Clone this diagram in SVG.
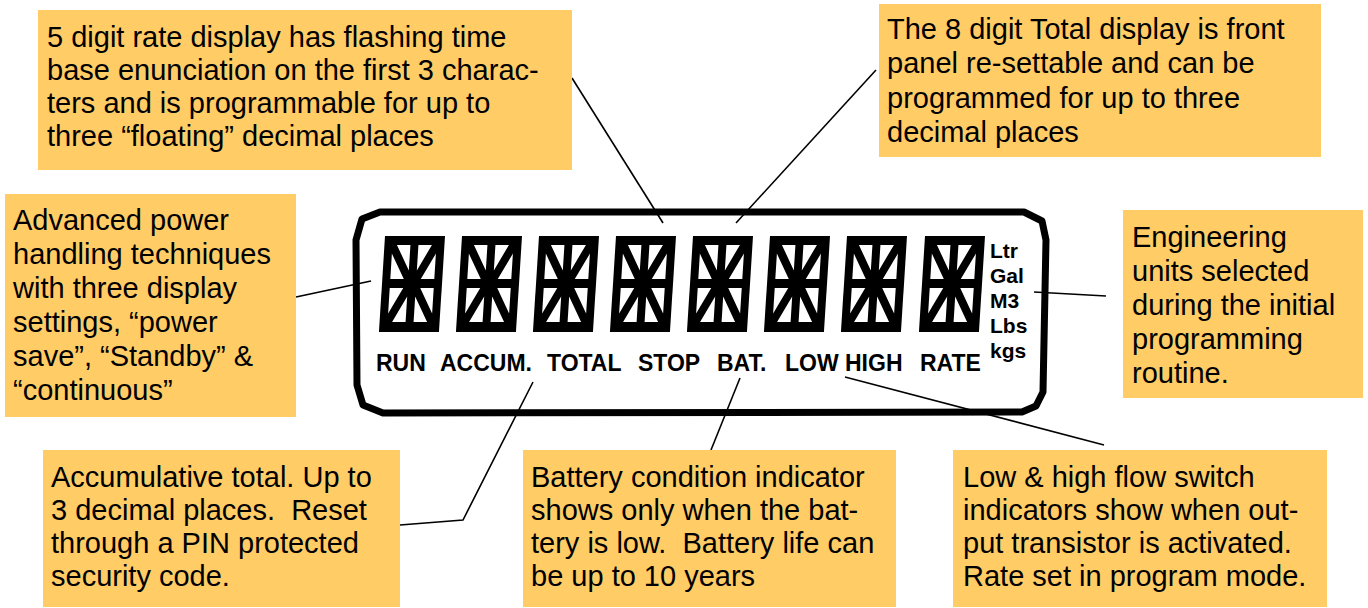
<svg xmlns="http://www.w3.org/2000/svg" xmlns:xlink="http://www.w3.org/1999/xlink" width="1368" height="608" viewBox="0 0 1368 608">
<style>
.box{fill:#FFCC66;}
.t{font-family:"Liberation Sans",Arial,sans-serif;font-size:29px;fill:#000;white-space:pre;}
.lb{font-family:"Liberation Sans",Arial,sans-serif;font-size:23px;font-weight:bold;fill:#000;}
.un{font-family:"Liberation Sans",Arial,sans-serif;font-size:21px;font-weight:bold;fill:#000;}
.con{stroke:#000;stroke-width:1.6;fill:none;}
</style>
<defs>
<g id="dg">
<path d="M0,0 H60 V96 H0 Z" fill="#000"/>
<path fill="#fff" d="M12.5,9 L26,9 L26,34.4 Z M8,17.6 L8,43 L21.5,43 Z M34,9 L47.5,9 L34,34.4 Z M52,17.6 L52,43 L38.5,43 Z M8,52 L21.5,52 L8,77.4 Z M12.5,86 L26,86 L26,60.6 Z M38.5,52 L52,52 L52,77.4 Z M34,60.6 L34,86 L47.5,86 Z"/>
</g>
</defs>
<rect width="1368" height="608" fill="#fff"/>

<g id="lcd">
<path d="M380,212 L362,219 L356,240 L357,385 L363,405 L383,413 L1022,412 L1036,406 L1043,392 L1046,240 L1042,221 L1024,212 Z" fill="#fff" stroke="#000" stroke-width="7" stroke-linejoin="round"/>
<use xlink:href="#dg" transform="translate(385,236) skewX(-3.6)"/>
<use xlink:href="#dg" transform="translate(462,236) skewX(-3.6)"/>
<use xlink:href="#dg" transform="translate(539,236) skewX(-3.6)"/>
<use xlink:href="#dg" transform="translate(616,236) skewX(-3.6)"/>
<use xlink:href="#dg" transform="translate(693,236) skewX(-3.6)"/>
<use xlink:href="#dg" transform="translate(770,236) skewX(-3.6)"/>
<use xlink:href="#dg" transform="translate(847,236) skewX(-3.6)"/>
<use xlink:href="#dg" transform="translate(925,236) skewX(-3.6)"/>
<text class="lb" x="376" y="371">RUN</text>
<text class="lb" x="440" y="371">ACCUM.</text>
<text class="lb" x="547" y="371">TOTAL</text>
<text class="lb" x="638" y="371">STOP</text>
<text class="lb" x="717" y="371">BAT.</text>
<text class="lb" x="785" y="371">LOW</text>
<text class="lb" x="845" y="371">HIGH</text>
<text class="lb" x="920" y="371">RATE</text>
<text class="un" x="990" y="258">Ltr</text>
<text class="un" x="990" y="283">Gal</text>
<text class="un" x="990" y="308">M3</text>
<text class="un" x="990" y="333">Lbs</text>
<text class="un" x="990" y="358">kgs</text>
</g>

<g id="connectors">
<line class="con" x1="572" y1="78" x2="663" y2="223"/>
<line class="con" x1="876" y1="70" x2="736" y2="223"/>
<line class="con" x1="296" y1="297" x2="371" y2="281"/>
<line class="con" x1="1034" y1="292" x2="1106" y2="296"/>
<polyline class="con" points="533,382 463,520 400,525"/>
<line class="con" x1="740" y1="378" x2="711" y2="450"/>
<line class="con" x1="845" y1="377" x2="1104" y2="445"/>
</g>

<g id="note-rate">
<rect class="box" x="38" y="10" width="534" height="160"/>
<text class="t" x="47" y="47">5 digit rate display has flashing time</text>
<text class="t" x="47" y="80">base enunciation on the first 3 charac-</text>
<text class="t" x="47" y="113">ters and is programmable for up to</text>
<text class="t" x="47" y="146">three “floating” decimal places</text>
</g>

<g id="note-total">
<rect class="box" x="879" y="4" width="442" height="153"/>
<text class="t" x="887" y="39">The 8 digit Total display is front</text>
<text class="t" x="887" y="73">panel re-settable and can be</text>
<text class="t" x="887" y="108">programmed for up to three</text>
<text class="t" x="887" y="142">decimal places</text>
</g>

<g id="note-power">
<rect class="box" x="5" y="194" width="291" height="223"/>
<text class="t" x="13" y="230">Advanced power</text>
<text class="t" x="13" y="264">handling techniques</text>
<text class="t" x="13" y="298">with three display</text>
<text class="t" x="13" y="332">settings, “power</text>
<text class="t" x="13" y="366">save”, “Standby” &amp;</text>
<text class="t" x="13" y="400">“continuous”</text>
</g>

<g id="note-units">
<rect class="box" x="1123" y="210" width="240" height="188"/>
<text class="t" x="1132" y="247">Engineering</text>
<text class="t" x="1132" y="281">units selected</text>
<text class="t" x="1132" y="315">during the initial</text>
<text class="t" x="1132" y="349">programming</text>
<text class="t" x="1132" y="383">routine.</text>
</g>

<g id="note-accum">
<rect class="box" x="43" y="450" width="357" height="157"/>
<text class="t" x="51" y="487">Accumulative total. Up to</text>
<text class="t" x="51" y="520">3 decimal places.  Reset</text>
<text class="t" x="51" y="553">through a PIN protected</text>
<text class="t" x="51" y="586">security code.</text>
</g>

<g id="note-battery">
<rect class="box" x="523" y="450" width="373" height="157"/>
<text class="t" x="531" y="487">Battery condition indicator</text>
<text class="t" x="531" y="520">shows only when the bat-</text>
<text class="t" x="531" y="553">tery is low.  Battery life can</text>
<text class="t" x="531" y="586">be up to 10 years</text>
</g>

<g id="note-flow">
<rect class="box" x="953" y="450" width="374" height="157"/>
<text class="t" x="963" y="487">Low &amp; high flow switch</text>
<text class="t" x="963" y="520">indicators show when out-</text>
<text class="t" x="963" y="553">put transistor is activated.</text>
<text class="t" x="963" y="586">Rate set in program mode.</text>
</g>
</svg>
